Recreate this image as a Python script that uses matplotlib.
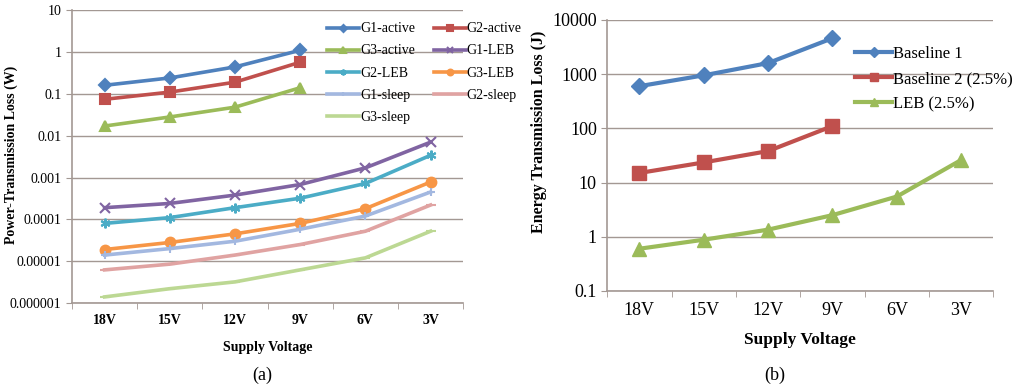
import numpy as np
import matplotlib
matplotlib.use('Agg')
import matplotlib.pyplot as plt

plt.rcParams['font.family'] = ['Liberation Serif', 'DejaVu Serif']

# categories
voltages = ['18V', '15V', '12V', '9V', '6V', '3V']

# (a) power transmission loss (W)
g1_active = [0.16, 0.24, 0.44, 1.1]
g2_active = [0.074, 0.11, 0.19, 0.57]
g3_active = [0.017, 0.028, 0.048, 0.14]
g1_leb = [0.00019, 0.00024, 0.00038, 0.00068, 0.0017, 0.0070]
g2_leb = [0.00008, 0.00011, 0.00019, 0.00032, 0.00072, 0.0034]
g3_leb = [0.000019, 0.000028, 0.000045, 0.00008, 0.00018, 0.00078]
g1_sleep = [0.000014, 0.000020, 0.000030, 0.000058, 0.00012, 0.00045]
g2_sleep = [0.0000062, 0.0000085, 0.000014, 0.000025, 0.000052, 0.00022]
g3_sleep = [0.0000014, 0.0000022, 0.0000032, 0.0000062, 0.000012, 0.000052]

# (b) energy transmission loss (J)
baseline1 = [600, 950, 1600, 4600]
baseline2 = [15, 23.5, 38, 110]
leb = [0.6, 0.88, 1.35, 2.5, 5.5, 26]

blue, red, green = '#4F81BD', '#C0504D', '#9BBB59'
purple, teal, orange = '#8064A2', '#4BACC6', '#F79646'
lblue, pink, lgreen = '#A3B8E0', '#E0A3A2', '#BCD893'
grid_c = '#A39893'

fig = plt.figure(figsize=(10.24, 3.91), dpi=100)
ax1 = fig.add_axes([0.0703, 0.225, 0.382, 0.749])
ax2 = fig.add_axes([0.593, 0.256, 0.377, 0.693])

x = np.arange(len(voltages))

series_a = [
    (g1_active, 'G1-active', blue, 'D', 6),
    (g2_active, 'G2-active', red, 's', 7),
    (g3_active, 'G3-active', green, '^', 7),
    (g1_leb, 'G1-LEB', purple, 'x', 7),
    (g2_leb, 'G2-LEB', teal, (6, 2, 0), 7),
    (g3_leb, 'G3-LEB', orange, 'o', 7),
    (g1_sleep, 'G1-sleep', lblue, '+', 6),
    (g2_sleep, 'G2-sleep', pink, '_', 7),
    (g3_sleep, 'G3-sleep', lgreen, '_', 7),
]
lines_a = []
for vals, lab, c, m, ms in series_a:
    ln, = ax1.plot(x[:len(vals)], vals, color=c, lw=2.6, marker=m, ms=ms,
                   mfc=c, mec=c, mew=1.5, label=lab, zorder=3)
    lines_a.append(ln)

series_b = [
    (baseline1, 'Baseline 1', blue, 'D', 8),
    (baseline2, 'Baseline 2 (2.5%)', red, 's', 10),
    (leb, 'LEB (2.5%)', green, '^', 10),
]
for vals, lab, c, m, ms in series_b:
    ax2.plot(x[:len(vals)], vals, color=c, lw=3, marker=m, ms=ms,
             mfc=c, mec=c, label=lab, zorder=3)

for ax in (ax1, ax2):
    ax.set_yscale('log')
    ax.set_xlim(-0.5, 5.5)
    ax.set_xticks(x)
    ax.set_xticklabels(voltages)
    ax.set_xticks(np.arange(-0.5, 6, 1), minor=True)
    ax.tick_params(axis='x', which='major', length=0, pad=8)
    ax.tick_params(axis='x', which='minor', length=4, color=grid_c, direction='out')
    ax.tick_params(axis='y', which='major', length=4, color=grid_c, direction='out')
    ax.tick_params(axis='y', which='minor', length=0)
    ax.yaxis.grid(True, which='major', color=grid_c, lw=1)
    ax.set_axisbelow(True)
    for s in ('top', 'right'):
        ax.spines[s].set_visible(False)
    for s in ('left', 'bottom'):
        ax.spines[s].set_color(grid_c)
        ax.spines[s].set_linewidth(1.2)

ax1.set_ylim(1e-6, 10)
ax1.set_yticks([1e-6, 1e-5, 1e-4, 1e-3, 1e-2, 1e-1, 1, 10])
ax1.set_yticklabels(['0.000001', '0.00001', '0.0001', '0.001', '0.01', '0.1', '1', '10'])
ax1.tick_params(axis='both', labelsize=10)
for t in ax1.get_xticklabels():
    t.set_fontweight('bold')
ax1.set_xlabel('Supply Voltage', fontsize=10, fontweight='bold', labelpad=10)
ax1.set_ylabel('Power-Transmission Loss (W)', fontsize=10, fontweight='bold')
ax1.yaxis.set_label_coords(-0.138, 0.505)

# legend filled row by row, as in the original
order = [0, 2, 4, 6, 8, 1, 3, 5, 7]
ax1.legend([lines_a[i] for i in order], [series_a[i][1] for i in order],
           loc='upper left', bbox_to_anchor=(0.653, 0.958), ncol=2, frameon=False,
           fontsize=10, handlelength=2.3, handletextpad=0.05, columnspacing=1.35,
           labelspacing=0.65, borderpad=0, borderaxespad=0, numpoints=1,
           markerscale=0.6)

ax2.set_ylim(0.1, 10000)
ax2.set_yticks([0.1, 1, 10, 100, 1000, 10000])
ax2.set_yticklabels(['0.1', '1', '10', '100', '1000', '10000'])
ax2.tick_params(axis='both', labelsize=13)
ax2.set_xlabel('Supply Voltage', fontsize=12.5, fontweight='bold', labelpad=9)
ax2.set_ylabel('Energy Transmission Loss (J)', fontsize=11.5, fontweight='bold')
ax2.yaxis.set_label_coords(-0.155, 0.587)
ax2.legend(loc='upper left', bbox_to_anchor=(0.643, 0.904), frameon=False,
           fontsize=12, handlelength=2.2, handletextpad=0.05,
           labelspacing=0.55, borderpad=0, borderaxespad=0, numpoints=1,
           markerscale=0.6)

fig.text(0.256, 0.04, '(a)', fontsize=13, ha='center', va='center')
fig.text(0.757, 0.04, '(b)', fontsize=13, ha='center', va='center')

fig.savefig('out.png', dpi=100)
